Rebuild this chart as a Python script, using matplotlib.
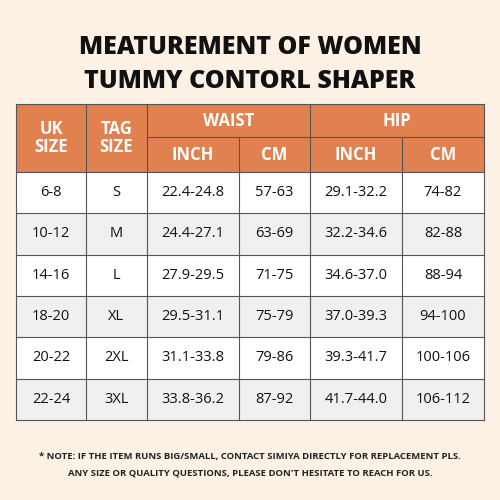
import matplotlib.pyplot as plt
from matplotlib.patches import Rectangle

uk_sizes = ["6-8", "10-12", "14-16", "18-20", "20-22", "22-24"]
tag_sizes = ["S", "M", "L", "XL", "2XL", "3XL"]
waist_inch = ["22.4-24.8", "24.4-27.1", "27.9-29.5", "29.5-31.1", "31.1-33.8", "33.8-36.2"]
waist_cm = ["57-63", "63-69", "71-75", "75-79", "79-86", "87-92"]
hip_inch = ["29.1-32.2", "32.2-34.6", "34.6-37.0", "37.0-39.3", "39.3-41.7", "41.7-44.0"]
hip_cm = ["74-82", "82-88", "88-94", "94-100", "100-106", "106-112"]

BG = "#FDF1E6"
HEAD = "#E0814F"
LINE = "#555555"
FONT = "Open Sans"

fig = plt.figure(figsize=(5, 5), dpi=100, facecolor=BG)
ax = fig.add_axes([0, 0, 1, 1])
ax.set_xlim(0, 500)
ax.set_ylim(500, 0)
ax.axis("off")

ax.text(250, 48, "MEATUREMENT OF WOMEN", ha="center", va="center", fontsize=18,
        fontweight="heavy", family=FONT, color="#111111")
ax.text(250, 82, "TUMMY CONTORL SHAPER", ha="center", va="center", fontsize=18,
        fontweight="heavy", family=FONT, color="#111111")

xs = [16, 86, 147, 239, 310, 402, 484]
top, mid, hdr_end = 104, 137, 172
row_h = 41.3

# header
ax.add_patch(Rectangle((xs[0], top), xs[-1] - xs[0], hdr_end - top, facecolor=HEAD, edgecolor="none"))
hstyle = dict(ha="center", va="center", color="white", fontsize=12, fontweight="bold", family=FONT)
ax.text((xs[0] + xs[1]) / 2, (top + hdr_end) / 2, "UK\nSIZE", linespacing=1.0, **hstyle)
ax.text((xs[1] + xs[2]) / 2, (top + hdr_end) / 2, "TAG\nSIZE", linespacing=1.0, **hstyle)
ax.text((xs[2] + xs[4]) / 2, (top + mid) / 2, "WAIST", **hstyle)
ax.text((xs[4] + xs[6]) / 2, (top + mid) / 2, "HIP", **hstyle)
for i, lab in enumerate(["INCH", "CM", "INCH", "CM"]):
    ax.text((xs[i + 2] + xs[i + 3]) / 2, (mid + hdr_end) / 2, lab, **hstyle)

# body
cols = [uk_sizes, tag_sizes, waist_inch, waist_cm, hip_inch, hip_cm]
for r in range(len(uk_sizes)):
    y0 = hdr_end + r * row_h
    ax.add_patch(Rectangle((xs[0], y0), xs[-1] - xs[0], row_h,
                           facecolor="white" if r % 2 == 0 else "#F0F0F0", edgecolor="none"))
    for c, col in enumerate(cols):
        ax.text((xs[c] + xs[c + 1]) / 2, y0 + row_h / 2, col[r], ha="center", va="center",
                fontsize=10.5, family=FONT, color="#111111")
bottom = hdr_end + len(uk_sizes) * row_h

# grid lines
lw = 0.8
for yy in [top, hdr_end] + [hdr_end + r * row_h for r in range(1, len(uk_sizes) + 1)]:
    ax.plot([xs[0], xs[-1]], [yy, yy], color=LINE, lw=lw)
ax.plot([xs[2], xs[-1]], [mid, mid], color=LINE, lw=lw)
for i, xx in enumerate(xs):
    if i in (3, 5):
        ax.plot([xx, xx], [mid, bottom], color=LINE, lw=lw)
    else:
        ax.plot([xx, xx], [top, bottom], color=LINE, lw=lw)

nstyle = dict(ha="center", va="center", fontsize=6.8, family=FONT, fontweight="bold", color="#222222")
ax.text(250, 456, "* NOTE: IF THE ITEM RUNS BIG/SMALL, CONTACT SIMIYA DIRECTLY FOR REPLACEMENT PLS.", **nstyle)
ax.text(250, 473, "ANY SIZE OR QUALITY QUESTIONS, PLEASE DON'T HESITATE TO REACH FOR US.", **nstyle)

fig.savefig("out.png", dpi=100, facecolor=BG)
